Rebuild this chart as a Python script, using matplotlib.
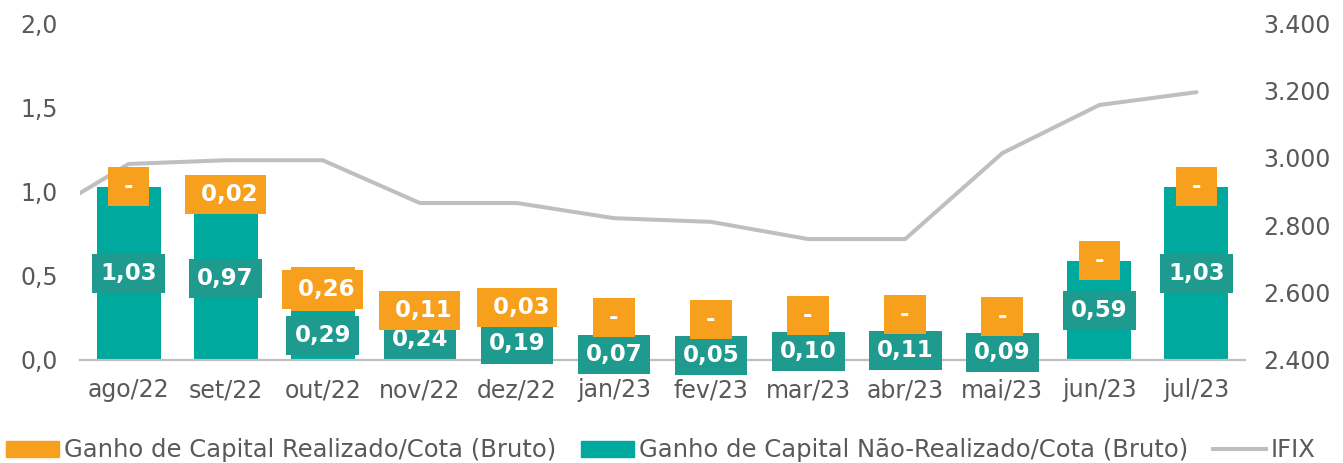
import matplotlib
matplotlib.use("Agg")
import matplotlib.pyplot as plt
import numpy as np
from matplotlib.patches import Patch
from matplotlib.lines import Line2D

categories = ['ago/22', 'set/22', 'out/22', 'nov/22', 'dez/22', 'jan/23',
              'fev/23', 'mar/23', 'abr/23', 'mai/23', 'jun/23', 'jul/23']
realizado = [0.00, 0.02, 0.26, 0.11, 0.03, 0.00, 0.00, 0.00, 0.00, 0.00, 0.00, 0.00]
nao_realizado = [1.03, 0.97, 0.29, 0.24, 0.19, 0.07, 0.05, 0.10, 0.11, 0.09, 0.59, 1.03]
# IFIX: first value is the month before the window (jul/22), partly visible at the left edge
ifix_months = ['jul/22'] + categories
ifix = [2809, 2982, 2993, 2993, 2866, 2866, 2821, 2810, 2759, 2759, 3014, 3157, 3195]

ORANGE = '#F7A01E'
TEAL = '#00A99D'
TEAL_LBL = '#1F9A8F'
GRAY_LINE = '#BFBFBF'
TXT = '#595959'

plt.rcParams['font.family'] = ['DejaVu Sans']

fig = plt.figure(figsize=(13.43, 4.63), dpi=100)
ax = fig.add_axes([0.0596, 0.2225, 0.8674, 0.7275])
ax2 = ax.twinx()

x = np.arange(len(categories))
w = 0.66
ax.bar(x, nao_realizado, w, color=TEAL, zorder=2)
ax.bar(x, realizado, w, bottom=nao_realizado, color=ORANGE, zorder=2)

x_ifix = np.arange(-1, len(categories))
ax2.plot(x_ifix, ifix, color=GRAY_LINE, lw=2.9, solid_capstyle='round', zorder=1)

def fmt(v):
    return f"{v:.2f}".replace('.', ',')

fs_lbl = 16.5
for i in range(len(categories)):
    t = nao_realizado[i]
    r = realizado[i]
    y_t = t / 2
    ax.text(x[i], y_t, fmt(t), ha='center', va='center', color='white',
            fontsize=fs_lbl, fontweight='bold', zorder=5,
            bbox=dict(boxstyle='square,pad=0.35', fc=TEAL_LBL, ec='none'))
    y_r = t + r / 2
    # keep the orange label clear of the teal label when the bars are short
    if y_r - y_t < 0.15:
        y_r = max(y_t + 0.215, 0.24)
    s = ' - ' if r == 0 else ' ' + fmt(r)
    ax.text(x[i], y_r, s, ha='center', va='center', color='white',
            fontsize=fs_lbl, fontweight='bold', zorder=6,
            bbox=dict(boxstyle='square,pad=0.35', fc=ORANGE, ec='none'))

ax.set_xlim(-0.5, len(categories) - 0.5)
ax.set_ylim(0, 2.0)
ax2.set_ylim(2400, 3400)
ax.set_xticks(x)
ax.set_xticklabels(categories)
yl = [0, 0.5, 1.0, 1.5, 2.0]
ax.set_yticks(yl)
ax.set_yticklabels([f"{v:.1f}".replace('.', ',') for v in yl])
yr = [2400, 2600, 2800, 3000, 3200, 3400]
ax2.set_yticks(yr)
ax2.set_yticklabels([f"{v:,}".replace(',', '.') for v in yr])

for a in (ax, ax2):
    for sp in ['top', 'left', 'right', 'bottom']:
        a.spines[sp].set_visible(False)
    a.tick_params(length=0, labelsize=17, labelcolor=TXT)
ax.spines['bottom'].set_visible(True)
ax.spines['bottom'].set_color(GRAY_LINE)
ax.spines['bottom'].set_linewidth(1.6)
ax.tick_params(axis='x', pad=13)
ax.tick_params(axis='y', pad=16)
ax2.tick_params(axis='y', pad=13)

ax.set_zorder(ax2.get_zorder() + 1)
ax.patch.set_visible(False)

handles = [Patch(color=ORANGE), Patch(color=TEAL), Line2D([], [], color=GRAY_LINE, lw=2.9)]
labels = ['Ganho de Capital Realizado/Cota (Bruto)',
          'Ganho de Capital Não-Realizado/Cota (Bruto)', 'IFIX']
leg = fig.legend(handles, labels, loc='center', bbox_to_anchor=(0.492, 0.027), ncol=3,
                 frameon=False, fontsize=17.5, handlelength=2.2, handleheight=0.6,
                 handletextpad=0.2, columnspacing=1.0, labelcolor=TXT,
                 borderpad=0, borderaxespad=0)

fig.savefig('out.png', dpi=100)
